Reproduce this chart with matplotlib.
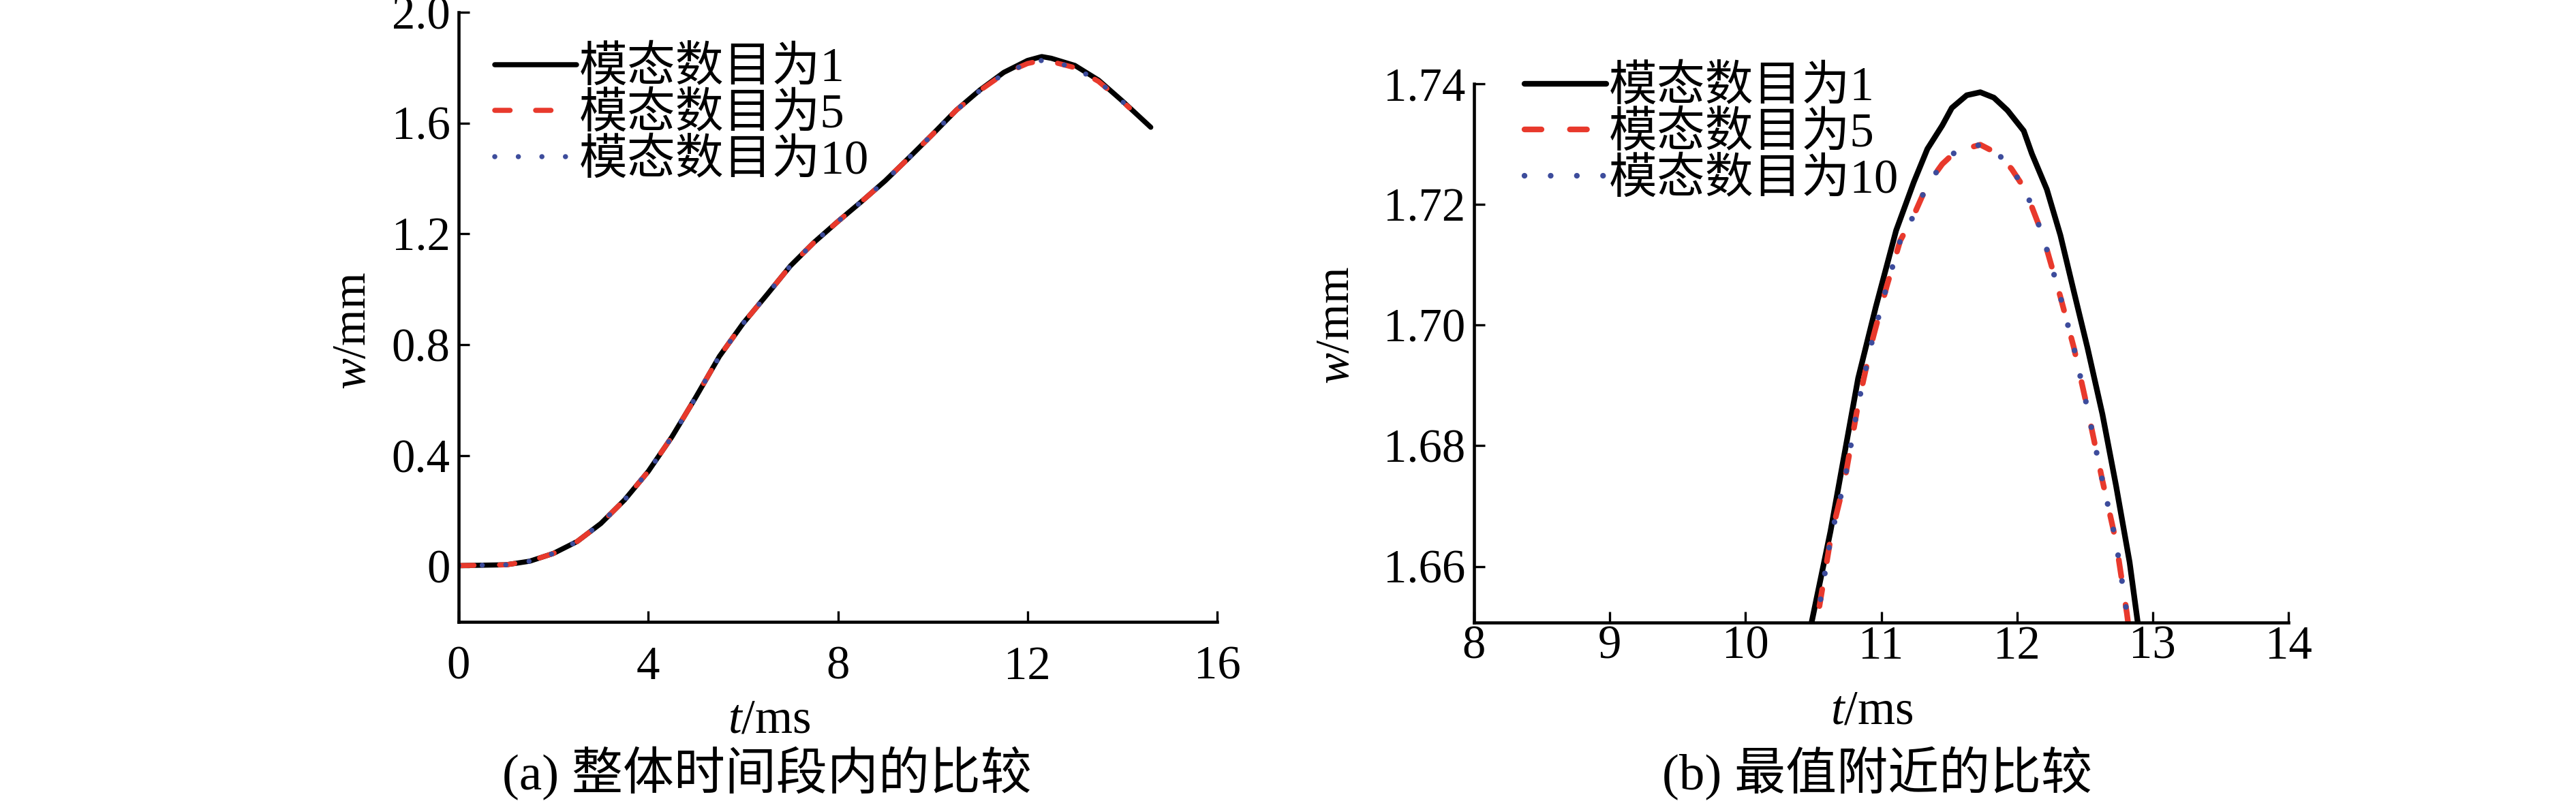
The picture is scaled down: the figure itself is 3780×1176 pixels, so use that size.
import matplotlib
matplotlib.use("Agg")
import matplotlib.pyplot as plt

plt.rcParams['font.family'] = ['Liberation Serif', 'Noto Sans CJK SC']
plt.rcParams['mathtext.fontset'] = 'custom'
plt.rcParams['mathtext.it'] = 'Liberation Serif:italic'
plt.rcParams['mathtext.rm'] = 'Liberation Serif'

labels = ["模态数目为1", "模态数目为5", "模态数目为10"]

# (a) whole time range
t_a1 = [0, 1, 1.5, 2, 2.5, 3, 3.5, 4, 4.5, 5, 5.5, 6, 6.5, 7, 7.5, 8, 8.5, 9, 9.5,
        10, 10.5, 11, 11.5, 12, 12.3, 12.5, 13, 13.5, 14, 14.6]
w_a1 = [0.003, 0.006, 0.019, 0.047, 0.09, 0.155, 0.24, 0.343, 0.468, 0.61, 0.758, 0.877,
        0.98, 1.085, 1.17, 1.245, 1.317, 1.392, 1.475, 1.56, 1.647, 1.72, 1.783, 1.826,
        1.84, 1.834, 1.808, 1.755, 1.68, 1.585]
t_a5 = [0, 1, 1.5, 2, 2.5, 3, 3.5, 4, 4.5, 5, 5.5, 6, 6.5, 7, 7.5, 8, 8.5, 9, 9.5,
        10, 10.5, 11, 11.5, 12, 12.3, 12.5, 13, 13.5, 14, 14.15]
w_a5 = [0.003, 0.006, 0.019, 0.047, 0.09, 0.155, 0.24, 0.343, 0.468, 0.61, 0.758, 0.877,
        0.98, 1.085, 1.17, 1.245, 1.317, 1.392, 1.475, 1.56, 1.647, 1.718, 1.778, 1.815,
        1.826, 1.822, 1.80, 1.75, 1.678, 1.655]
t_a10 = t_a5
w_a10 = [0.003, 0.006, 0.019, 0.047, 0.09, 0.155, 0.24, 0.343, 0.468, 0.61, 0.758, 0.877,
         0.98, 1.085, 1.17, 1.245, 1.317, 1.392, 1.475, 1.56, 1.647, 1.718, 1.778, 1.815,
         1.826, 1.822, 1.80, 1.75, 1.678, 1.655]

# (b) near the maximum
t_b1 = [10.45, 10.626, 10.83, 10.96, 11.11, 11.24, 11.34, 11.45, 11.52, 11.63, 11.73, 11.83,
        11.93, 12.05, 12.11, 12.22, 12.32, 12.42, 12.52, 12.63, 12.73, 12.83, 12.92]
w_b1 = [1.6467, 1.6658, 1.6912, 1.703, 1.7157, 1.7237, 1.7292, 1.7331, 1.736, 1.7381, 1.7386,
        1.7377, 1.7356, 1.7322, 1.7284, 1.7225, 1.7149, 1.7055, 1.6962, 1.6852, 1.6734,
        1.6607, 1.6457]
t_b5 = [10.49, 10.63, 10.73, 10.83, 10.93, 11.04, 11.14, 11.24, 11.34, 11.45, 11.55, 11.73,
        11.86, 11.96, 12.06, 12.19, 12.32, 12.42, 12.52, 12.63, 12.73, 12.81, 12.84]
w_b5 = [1.646, 1.665, 1.6742, 1.6869, 1.6971, 1.7064, 1.714, 1.7182, 1.7233, 1.7267, 1.7288,
        1.7299, 1.7284, 1.7259, 1.7225, 1.7149, 1.7047, 1.6962, 1.6861, 1.6742, 1.6641,
        1.6522, 1.647]
t_b10 = t_b5
w_b10 = [1.646, 1.665, 1.6742, 1.6869, 1.6971, 1.7064, 1.714, 1.7182, 1.7233, 1.7267, 1.7288,
         1.7299, 1.7284, 1.7259, 1.7225, 1.7149, 1.7047, 1.6962, 1.6861, 1.6742, 1.6641,
         1.6522, 1.647]

xt_a = [0, 4, 8, 12, 16]
yt_a = [0, 0.4, 0.8, 1.2, 1.6, 2.0]
ytl_a = ["0", "0.4", "0.8", "1.2", "1.6", "2.0"]
xt_b = [8, 9, 10, 11, 12, 13, 14]
yt_b = [1.66, 1.68, 1.70, 1.72, 1.74]
ytl_b = ["1.66", "1.68", "1.70", "1.72", "1.74"]

RED = "#e8392c"
BLUE = "#3d4c9c"
W, H = 3780, 1176

fig = plt.figure(figsize=(W / 300, H / 300), dpi=300)
fig.patch.set_facecolor("white")


def px_axes(x0, x1, ytop, ybot):
    return fig.add_axes([x0 / W, 1 - ybot / H, (x1 - x0) / W, (ybot - ytop) / H])


ax1 = px_axes(673, 1786, 18, 913)
ax2 = px_axes(2163, 3358, 123, 914)

for ax in (ax1, ax2):
    for s in ("top", "right"):
        ax.spines[s].set_visible(False)
    for s in ("left", "bottom"):
        ax.spines[s].set_linewidth(1.1)
    ax.tick_params(direction="in", length=3.8, width=0.8, labelsize=16.5)
    ax.set_facecolor("none")

ax1.plot(t_a1, w_a1, color="black", lw=1.8, solid_capstyle="round", label=labels[0])
ax1.plot(t_a5, w_a5, color=RED, lw=1.8, ls=(0, (3, 5)), dash_capstyle="round", label=labels[1])
ax1.plot(t_a10, w_a10, color=BLUE, lw=1.8, ls=(0, (0.01, 4.6)), dash_capstyle="round", label=labels[2])
ax1.set_xlim(0, 16)
ax1.set_ylim(-0.2, 2.0)
ax1.set_xticks(xt_a)
ax1.set_yticks(yt_a)
ax1.set_yticklabels(ytl_a)
ax1.tick_params(axis="x", pad=8.5)
ax1.tick_params(axis="y", pad=3)

ax2.plot(t_b1, w_b1, color="black", lw=2.0, solid_capstyle="round", label=labels[0])
ax2.plot(t_b5, w_b5, color=RED, lw=2.0, ls=(0, (3, 5)), dash_capstyle="round", label=labels[1])
ax2.plot(t_b10, w_b10, color=BLUE, lw=2.0, ls=(0, (0.01, 4.6)), dash_capstyle="round", label=labels[2])
ax2.set_xlim(8, 14)
ax2.set_ylim(1.6507, 1.74)
ax2.set_xticks(xt_b)
ax2.set_yticks(yt_b)
ax2.set_yticklabels(ytl_b)
ax2.tick_params(axis="x", pad=1)
ax2.tick_params(axis="y", pad=3)

leg_kw = dict(loc="upper left", frameon=False, fontsize=17, borderpad=0, borderaxespad=0,
              handlelength=1.7, handletextpad=0.05, labelspacing=0.02)
ax1.legend(bbox_to_anchor=((726 - 673) / 1113, 1 - (68 - 18) / 895), **leg_kw)
ax2.legend(bbox_to_anchor=((2237 - 2163) / 1195, 1 - (96 - 123) / 791), **leg_kw)

# axis labels and captions
fig.text(519 / W, 1 - 486 / H, r"$w$/mm", rotation=90, ha="center", va="center", fontsize=16.5)
fig.text(1962 / W, 1 - 478 / H, r"$w$/mm", rotation=90, ha="center", va="center", fontsize=16.5)
fig.text(1129 / W, 1 - 1058 / H, r"$t$/ms", ha="center", va="center", fontsize=17)
fig.text(2747 / W, 1 - 1045 / H, r"$t$/ms", ha="center", va="center", fontsize=17)
fig.text(1125 / W, 1 - 1136 / H, "(a) 整体时间段内的比较", ha="center", va="center", fontsize=18)
fig.text(2755 / W, 1 - 1136 / H, "(b) 最值附近的比较", ha="center", va="center", fontsize=18)

fig.savefig("out.png", dpi=300, facecolor="white")
